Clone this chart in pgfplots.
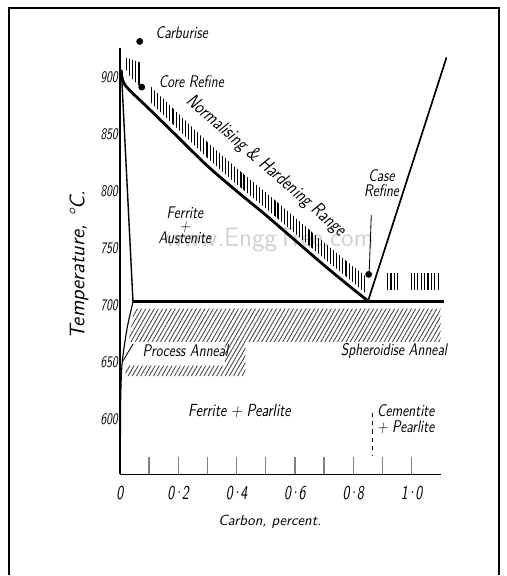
\documentclass[border=0pt]{standalone}
\usepackage{pgfplots}
\pgfplotsset{compat=1.18}
\usetikzlibrary{patterns.meta}
\newcommand\cn[1]{\scalebox{0.82}[1]{#1}}
\newcommand\cnn[1]{\scalebox{0.72}[1]{#1}}
\newcommand\pd{\kern-1.6pt\textperiodcentered\kern-1.6pt}
\definecolor{wm}{RGB}{210,210,210}
\begin{document}
\begin{tikzpicture}[font=\sffamily\itshape]
\begin{axis}[
  scale only axis, width=8.03cm, height=10.66cm,
  xmin=0, xmax=1.1, ymin=552, ymax=925,
  axis lines=left, axis line style={-, line width=0.9pt},
  clip=false,
  tick align=inside,
  xtick={0,0.1,0.2,0.3,0.4,0.5,0.6,0.7,0.8,0.9,1.0},
  xticklabels={\cnn{0},,\cnn{0\pd2},,\cnn{0\pd4},,\cnn{0\pd6},,\cnn{0\pd8},,\cnn{1\pd0}},
  x tick label style={yshift=-0.18cm, font=\fontsize{14}{15}\sffamily\itshape},
  xtick style={line width=0.9pt},
  major tick length=0.44cm,
  ytick={600,650,700,750,800,850,900},
  yticklabels={\cnn{600},\cnn{650},\cnn{700},\cnn{750},\cnn{800},\cnn{850},\cnn{900}},
  y tick label style={font=\fontsize{11.5}{12}\sffamily\itshape, xshift=2pt},
  ytick style={draw=none},
]
% canvas and frame
\path (axis cs:-0.411,463.6) rectangle (axis cs:1.325,967.3);
\draw[line width=1.2pt] (axis cs:-0.380,463.6) -- (axis cs:-0.380,960.4) -- (axis cs:1.301,960.4) -- (axis cs:1.301,463.6);

% watermark
\node[wm, font=\fontsize{19}{22}\sffamily] at (axis cs:0.514,757) {www.EnggTree.com};

% hatched regions
\addplot[draw=none, pattern={Lines[angle=90,distance=2.2pt,line width=0.8pt]}] coordinates {
 (0.10,893)(0.2,868)(0.3,843)(0.4,820)(0.5,799)(0.6,777)(0.7,755)(0.8,734)(0.84,726)
 (0.84,711)(0.8,720)(0.7,741)(0.6,763)(0.5,785)(0.4,806)(0.3,829)(0.2,854)(0.1,879)};
\addplot[draw=none, pattern={Lines[angle=90,distance=2.2pt,line width=0.8pt]}] coordinates {
 (0.02,917)(0.075,912)(0.075,890)(0.035,900)(0.02,907)};
\addplot[draw=none, pattern={Lines[angle=90,distance=2.4pt,line width=0.8pt]}] coordinates {
 (0.91,714)(0.96,714)(0.96,728)(0.91,728)};
\addplot[draw=none, pattern={Lines[angle=90,distance=2.4pt,line width=0.8pt]}] coordinates {
 (0.99,714)(1.10,714)(1.10,728)(0.99,728)};
\addplot[draw=none, pattern={Lines[angle=60,distance=2.6pt,line width=0.6pt]}, pattern color=darkgray] coordinates {
 (0.05,697)(1.10,697)(1.10,668)(0.03,668)};
\addplot[draw=none, pattern={Lines[angle=60,distance=2.6pt,line width=0.6pt]}, pattern color=darkgray] coordinates {
 (0.36,668)(0.43,668)(0.43,638)(0.02,638)(0.02,647)(0.36,647)};

% phase boundaries
\addplot[line width=2pt, smooth] coordinates {(0.005,906)(0.017,893)(0.1,872)(0.2,847)(0.3,822)(0.4,800)(0.5,779)(0.6,757)(0.7,735)(0.8,714)(0.85,704)};
\addplot[line width=1pt] coordinates {(0.005,906)(0.045,703)};
\addplot[line width=0.8pt, smooth] coordinates {(0.045,703)(0.025,680)(0.008,650)(0.003,620)(0.002,585)};
\addplot[line width=2pt] coordinates {(0.045,703)(1.11,703)};
\addplot[line width=1.2pt] coordinates {(0.85,703)(1.12,917)};
\addplot[dashed, line width=0.8pt] coordinates {(0.866,606)(0.866,569)};
\addplot[line width=0.6pt] coordinates {(0.862,779)(0.855,730)};
\addplot[line width=0.6pt] coordinates {(0.045,666)(0.01,651)};
\addplot[only marks, mark=*, mark size=2.2pt] coordinates {(0.068,931)(0.075,891)(0.853,727)};

% texts
\node[font=\fontsize{12}{13}\sffamily\itshape] at (axis cs:0.212,939) {\cn{Carburise}};
\node[font=\fontsize{12}{13}\sffamily\itshape] at (axis cs:0.245,896) {\cn{Core Refine}};
\node[font=\fontsize{13.5}{14}\sffamily\itshape, rotate=-41] at (axis cs:0.50,822) {\cn{Normalising \& Hardening Range}};
\node[font=\fontsize{12}{13}\sffamily\itshape, align=center] at (axis cs:0.897,807) {\cn{Case}\\[-2pt]\cn{Refine}};
\node[font=\fontsize{12}{13}\sffamily\itshape, align=center] at (axis cs:0.223,770) {\cn{Ferrite}\\[-4pt]\cn{+}\\[-4pt]\cn{Austenite}};
\node[font=\fontsize{12}{13}\sffamily\itshape] at (axis cs:0.225,660) {\cn{Process Anneal}};
\node[font=\fontsize{12}{13}\sffamily\itshape] at (axis cs:0.94,660) {\cn{Spheroidise Anneal}};
\node[font=\fontsize{12.5}{13}\sffamily\itshape] at (axis cs:0.41,607) {\cn{Ferrite + Pearlite}};
\node[font=\fontsize{12}{13}\sffamily\itshape, align=left] at (axis cs:0.98,600) {\cn{Cementite}\\[-2pt]\cn{+ Pearlite}};
\node[font=\fontsize{15}{16}\sffamily\itshape, rotate=90] at (axis cs:-0.14,735) {Temperature, \textdegree C.};
\node[font=\fontsize{10.5}{12}\sffamily\itshape] at (axis cs:0.514,510) {Carbon, percent.};
\end{axis}
\end{tikzpicture}
\end{document}
